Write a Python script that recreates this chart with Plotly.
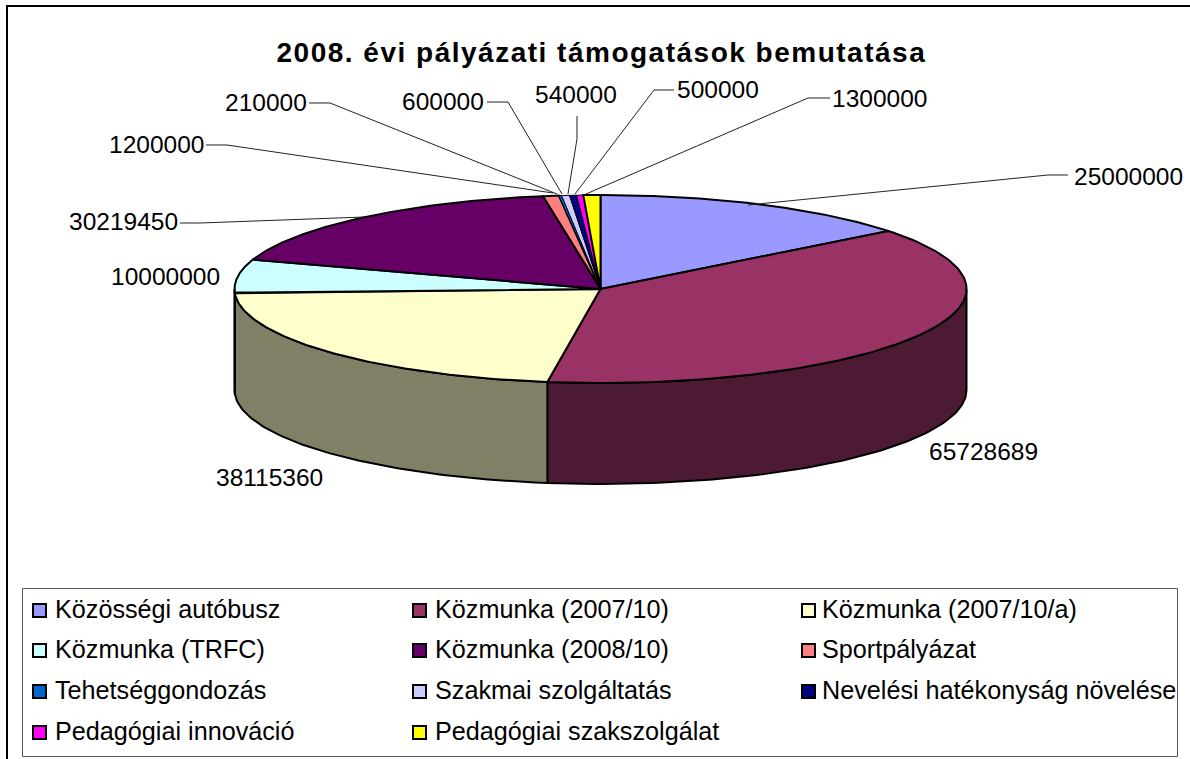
import numpy as np
import plotly.graph_objects as go

categories = ["Közösségi autóbusz", "Közmunka (2007/10)", "Közmunka (2007/10/a)",
              "Közmunka (TRFC)", "Közmunka (2008/10)", "Sportpályázat",
              "Tehetséggondozás", "Szakmai szolgáltatás", "Nevelési hatékonyság növelése",
              "Pedagógiai innováció", "Pedagógiai szakszolgálat"]
values = [25000000, 65728689, 38115360, 10000000, 30219450, 1200000,
          210000, 600000, 540000, 500000, 1300000]
top_colors = ["#9999FF", "#993366", "#FFFFCC", "#CCFFFF", "#660066", "#FF8080",
              "#0066CC", "#CCCCFF", "#000080", "#FF00FF", "#FFFF00"]
side_colors = ["#4C4C80", "#4D1A33", "#808066", "#668080", "#330033", "#804040",
               "#003366", "#666680", "#000040", "#800080", "#808000"]
title_text = "2008. évi pályázati támogatások bemutatása"

W, H = 1190, 759
CX, CY, RX, RY, DEPTH = 600.5, 289, 366, 94, 101   # pie geometry in pixels
FONT = "Liberation Sans"

def px(x): return x / W
def py(y): return 1 - y / H

fig = go.Figure()

fr = np.cumsum([0] + values) / sum(values) * 2 * np.pi

def top_xy(t):
    return np.sin(t), np.cos(t)

# side walls (front half of the pie)
lo, hi = np.pi / 2, 3 * np.pi / 2
for i in range(len(values)):
    a, b = max(fr[i], lo), min(fr[i + 1], hi)
    if b <= a:
        continue
    t = np.linspace(a, b, 80)
    x, y = top_xy(t)
    d = DEPTH / RY
    fig.add_trace(go.Scatter(
        x=np.r_[x, x[::-1], x[0]], y=np.r_[y, y[::-1] - d, y[0]],
        mode="lines", fill="toself", fillcolor=side_colors[i],
        line=dict(color="black", width=2), hoverinfo="skip", showlegend=False))

# top face
for i in range(len(values)):
    t = np.linspace(fr[i], fr[i + 1], 120)
    x, y = top_xy(t)
    small = values[i] < 1000000
    fig.add_trace(go.Scatter(
        x=np.r_[0, x, 0], y=np.r_[0, y, 0],
        mode="lines", fill="toself", fillcolor=top_colors[i],
        line=dict(color="black", width=1 if small else 2), name=categories[i], showlegend=False,
        hovertemplate=categories[i] + ": %{text}<extra></extra>", text=[values[i]] * (len(x) + 2)))

shapes = []
annotations = []

# outer frame: only the left and top edges fall inside the picture
shapes.append(dict(type="path", xref="paper", yref="paper", layer="below",
                   path=f"M {px(7):.5f},{py(770):.5f} L {px(7):.5f},{py(6):.5f} L {px(1200):.5f},{py(6):.5f}",
                   line=dict(color="black", width=2)))
shapes.append(dict(type="rect", xref="paper", yref="paper", x0=px(22.5), x1=px(1177.5), y0=py(588.5), y1=py(756.5),
                   line=dict(color="#555555", width=1), fillcolor="white", layer="below"))

# leader lines (pixel layout)
leaders = [
    [(1068, 175), (1048, 175), (748, 205)],
    [(180, 223), (200, 223), (365, 217)],
    [(206, 145), (227, 145), (553, 193)],
    [(309, 103), (330, 103), (557, 194)],
    [(487, 102), (508, 102), (562, 194)],
    [(577, 116), (577, 139), (568, 194)],
    [(674, 90), (654, 90), (575, 194)],
    [(830, 98), (808, 98), (586, 194)],
]
for pts in leaders:
    shapes.append(dict(type="path", xref="paper", yref="paper", layer="above",
                       path="M " + " L ".join(f"{px(a):.5f},{py(b):.5f}" for a, b in pts),
                       line=dict(color="#222222", width=1)))

# value labels: anchor pixel position per slice
label_pos = [(1185, 176), (1040, 451), (325, 477), (222, 276),
             (180, 222), (206, 145), (309, 102), (486, 101),
             (619, 94), (761, 89), (929, 98)]
for v, (x, y) in zip(values, label_pos):
    annotations.append(dict(xref="paper", yref="paper", x=px(x), y=py(y), text=str(v), showarrow=False,
                            xanchor="right", yanchor="middle", font=dict(family=FONT, size=24.5, color="black")))

# title
annotations.append(dict(xref="paper", yref="paper", x=px(601.5), y=py(52), text="<b>" + title_text + "</b>",
                        showarrow=False, xanchor="center", yanchor="middle",
                        font=dict(family=FONT, size=28, color="black")))

# legend
col_x = [33, 413, 802]
text_x = [53, 433, 820]
row_y = [609, 649, 690, 731]
for i, name in enumerate(categories):
    r, c = i // 3, i % 3
    x, y = col_x[c], row_y[r]
    shapes.append(dict(type="rect", xref="paper", yref="paper", x0=px(x), x1=px(x + 13),
                       y0=py(y - 5), y1=py(y + 8), fillcolor=top_colors[i],
                       line=dict(color="black", width=2), layer="above"))
    annotations.append(dict(xref="paper", yref="paper", x=px(text_x[c]), y=py(y), text=name, showarrow=False,
                            xanchor="left", yanchor="middle", font=dict(family=FONT, size=25.2, color="black")))

fig.update_layout(
    width=W, height=H, margin=dict(l=0, r=0, t=0, b=0), autosize=False,
    paper_bgcolor="white", plot_bgcolor="rgba(0,0,0,0)", showlegend=False,
    xaxis=dict(range=[-CX / RX, (W - CX) / RX], visible=False, fixedrange=True),
    yaxis=dict(range=[-(H - CY) / RY, CY / RY], visible=False, fixedrange=True),
    shapes=shapes, annotations=annotations,
)
post = ("document.body.style.margin='0';"
        "document.querySelectorAll('.annotation-text').forEach(function(t){"
        "if(t.textContent.indexOf('2008.')===0){t.style.letterSpacing='1.5px';}});")
fig.write_html("out.html", post_script=post, config={"displayModeBar": False})
